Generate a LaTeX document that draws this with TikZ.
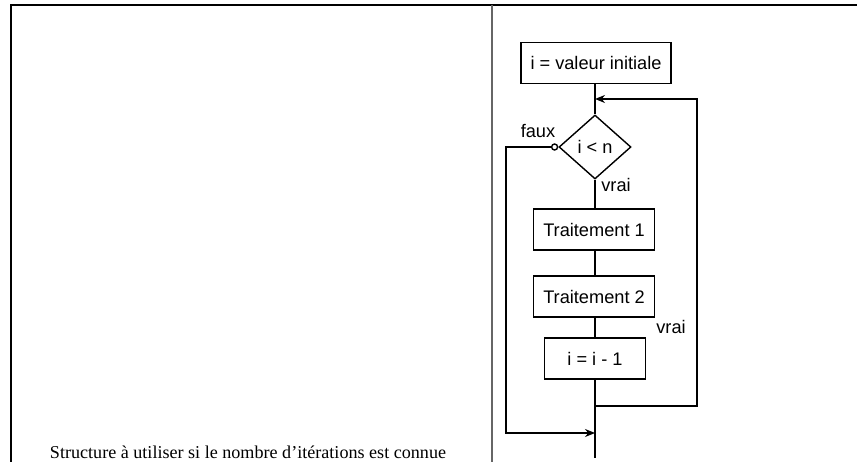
\documentclass[tikz,border=0pt]{standalone}
\usepackage{fontspec}
\setmainfont{Liberation Serif}
\newfontfamily\flowfont{Liberation Sans}
\usetikzlibrary{shapes.geometric,arrows.meta}
\begin{document}
\begin{tikzpicture}[x=1pt,y=-1pt,
  box/.style={draw,line width=1.4pt,minimum height=41pt,inner sep=0pt,font=\flowfont\fontsize{18.2}{20}\selectfont},
  cond/.style={draw,diamond,line width=1.4pt,minimum width=72pt,minimum height=64pt,aspect=1.125,inner sep=0pt,font=\flowfont\fontsize{18.2}{20}\selectfont},
  lbl/.style={font=\flowfont\fontsize{18.2}{20}\selectfont,inner sep=0pt},
  flow/.style={line width=1.4pt},
  arr/.style={line width=1.4pt,-{Stealth[length=10pt,width=8pt]}},
  frame/.style={line width=1.6pt}]
\useasboundingbox (0,0) rectangle (857,462);
% table frame
\draw[frame] (11,462) -- (11,5) -- (857,5);
\draw[line width=1.6pt,black!60] (492,5) -- (492,462);
% caption
\node[inner sep=0pt,font=\fontsize{18.1}{20}\selectfont] (caption) at (248,452) {Structure à utiliser si le nombre d’itérations est connue};
% flowchart nodes
\node[box,minimum width=150pt] (init) at (596,63) {i = valeur initiale};
\node[cond] (test) at (595,147) {i < n};
\node[box,minimum width=121pt] (t1) at (594,229.5) {Traitement 1};
\node[box,minimum width=121pt] (t2) at (594,296.5) {Traitement 2};
\node[box,minimum width=101pt] (dec) at (595,358.5) {i = i - 1};
\node[draw,circle,line width=1.4pt,minimum size=6pt,inner sep=0pt,anchor=east] (circ) at (test.west) {};
\coordinate (join) at (595,99);
\coordinate (loopR) at (697,99);
\coordinate (merge) at (595,406);
\coordinate (loopB) at (697,406);
\coordinate (fl) at (506,147);
\coordinate (fb) at (506,433);
\coordinate (entry) at (595,433);
\coordinate (end) at (595,458);
% connectors (kept vertical)
\draw[flow] (init.south -| test.north) -- (test.north);
\draw[flow] (test.south) -- (test.south |- t1.north);
\draw[flow] (test.south |- t1.south) -- (test.south |- t2.north);
\draw[flow] (test.south |- t2.south) -- (test.south |- dec.north);
\draw[flow] (dec.south) -- (end);
\draw[arr] (merge) -- (loopB) -- (loopR) -- (join);
\draw[arr] (circ.west) -- (fl) -- (fb) -- (entry);
% labels
\node[lbl] (faux) at (538,131) {faux};
\node[lbl] (vrai1) at (616,185) {vrai};
\node[lbl] (vrai2) at (671,327) {vrai};
\end{tikzpicture}
\end{document}
